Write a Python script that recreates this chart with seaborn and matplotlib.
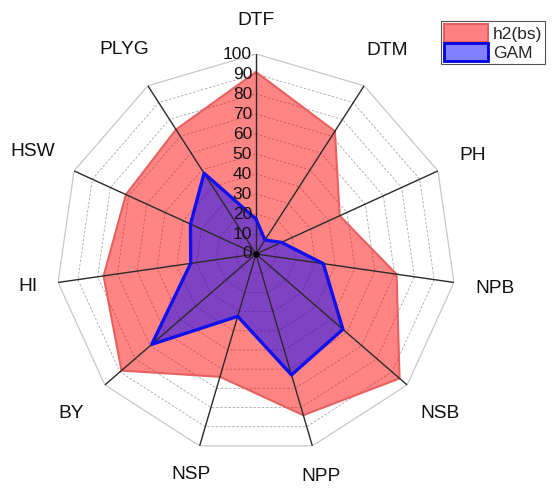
import numpy as np
import matplotlib
matplotlib.use("Agg")
import matplotlib.pyplot as plt
import matplotlib.transforms as mtransforms
from matplotlib.patches import Patch
import seaborn as sns

categories = ["DTF", "DTM", "PH", "NPB", "NSB", "NPP", "NSP", "BY", "HI", "HSW", "PLYG"]
h2_bs = [91, 73, 46, 71, 95, 84, 64, 89, 77, 71.5, 74]
gam = [17.5, 8.3, 14, 34, 57.5, 63, 32.5, 69, 33, 36, 48]
ring_levels = [10, 20, 30, 40, 50, 60, 70, 80, 90, 100]
series_names = ["h2(bs)", "GAM"]

sns.set_theme(style="white")
plt.rcParams["font.family"] = ["Liberation Sans", "DejaVu Sans"]

n = len(categories)
theta = np.linspace(0, 2 * np.pi, n, endpoint=False)
theta_c = np.append(theta, 2 * np.pi)

W, H = 552, 490
fig = plt.figure(figsize=(W / 100, H / 100), dpi=100)
cx, cy, R = 256, 490 - 254, 200
ax = fig.add_axes([(cx - R) / W, (cy - R) / H, 2 * R / W, 2 * R / H], projection="polar")
ax.set_theta_offset(np.pi / 2)
ax.set_theta_direction(-1)
ax.set_ylim(0, 100)
ax.grid(False)
ax.spines["polar"].set_visible(False)
ax.set_xticks([])
ax.set_yticks([])
ax.patch.set_alpha(0)

# polygon rings
for lv in ring_levels:
    if lv == 100:
        ax.plot(theta_c, [lv] * (n + 1), color="#c8c8c8", lw=0.9, zorder=1)
    else:
        ax.plot(theta_c, [lv] * (n + 1), color="#a8a8a8", lw=0.6,
                linestyle=(0, (3, 2)), zorder=1)
# spokes
for t in theta:
    ax.plot([t, t], [0, 100], color="#2a2a2a", lw=1.0, zorder=4)

# series
red_vals = np.append(h2_bs, h2_bs[0])
blue_vals = np.append(gam, gam[0])
ax.fill(theta_c, red_vals, color=(1, 0, 0), alpha=0.48, lw=0, zorder=2)
sns.lineplot(x=theta_c, y=red_vals, ax=ax, sort=False, color="#e86060", lw=1.5, zorder=3)
ax.fill(theta_c, blue_vals, color=(0, 0, 1), alpha=0.5, lw=0, zorder=3)
sns.lineplot(x=theta_c, y=blue_vals, ax=ax, sort=False, color="#1010ee", lw=2.4, zorder=5)
ax.plot([0], [0], marker="o", color="black", ms=3.5, zorder=6)
ax.set_xlabel("")
ax.set_ylabel("")

# radial tick labels
off = mtransforms.ScaledTranslation(-4 / 100, 0, fig.dpi_scale_trans)
for lv in [0] + ring_levels:
    ax.text(0, lv, str(lv), ha="right", va="center", fontsize=12.5,
            color="#111111", transform=ax.transData + off, zorder=7)

# category labels (radius in axis units, per label for placement)
label_r = [117, 121, 119, 120.5, 122, 116, 115, 122, 115, 123, 121.5]
for t, c, r in zip(theta, categories, label_r):
    ax.text(t, r, c, ha="center", va="center", fontsize=13.8, color="#111111")

handles = [Patch(facecolor=(1, 0.5, 0.5), edgecolor="#e06060", lw=1.5),
           Patch(facecolor=(0.5, 0.5, 1), edgecolor="#0000dd", lw=2)]
leg = fig.legend(handles, series_names, loc="upper left",
                 bbox_to_anchor=(441 / W, 1 - 21 / H), fontsize=12.5,
                 handlelength=2.55, handleheight=1.25, handletextpad=0.3,
                 labelspacing=0.05, borderpad=0.15, borderaxespad=0,
                 fancybox=False, framealpha=1, edgecolor="#555555")
leg.get_frame().set_linewidth(0.8)

fig.savefig("out.png", dpi=100)
